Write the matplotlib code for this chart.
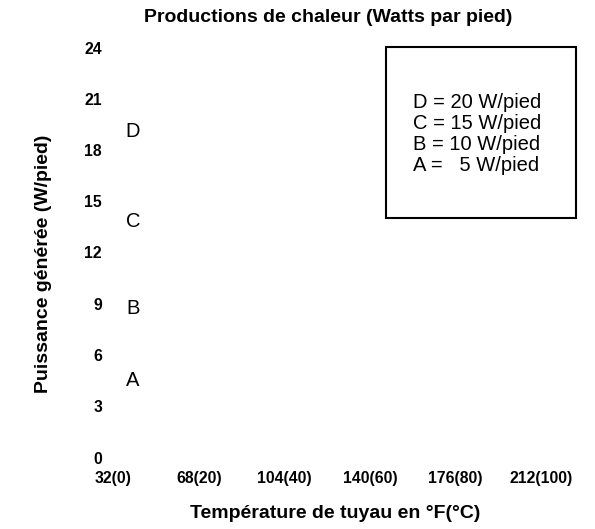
import matplotlib
matplotlib.use("Agg")
import matplotlib.pyplot as plt
from matplotlib.patches import Rectangle

plt.rcParams['font.family'] = ['Liberation Sans', 'DejaVu Sans']

# Axis ticks
x_ticks = [32, 68, 104, 140, 176, 212]
x_tick_labels = ["32(0)", "68(20)", "104(40)", "140(60)", "176(80)", "212(100)"]
y_ticks = [0, 3, 6, 9, 12, 15, 18, 21, 24]

# Curve identifiers and their ratings (W/pied)
series_names = ["D", "C", "B", "A"]
series_watts = [20, 15, 10, 5]
# Where each curve letter sits (temperature °F, power W/pied)
letter_x = [40.2, 40.2, 40.2, 40.2]
letter_y = [19.1, 13.8, 8.7, 4.5]

W, H = 595, 529
fig = plt.figure(figsize=(W / 100, H / 100), dpi=100)
ax = fig.add_axes([113.5 / W, 1 - 457.5 / H, 427.5 / W, 410 / H])
ax.set_xlim(32, 212)
ax.set_ylim(0, 24)
for s in ax.spines.values():
    s.set_visible(False)
ax.set_xticks(x_ticks)
ax.set_xticklabels(x_tick_labels, fontsize=11.3, fontweight='bold')
ax.set_yticks(y_ticks)
ax.set_yticklabels([str(v) for v in y_ticks], fontsize=11.3, fontweight='bold')
ax.tick_params(axis='both', length=0)
ax.tick_params(axis='y', pad=8.3)
ax.tick_params(axis='x', pad=9.5)

for name, xv, yv in zip(series_names, letter_x, letter_y):
    ax.text(xv, yv, name, fontsize=14.5, ha='center', va='center')

# Legend box
fig.patches.append(Rectangle((386 / W, 1 - 218 / H), 190 / W, 171 / H,
                             transform=fig.transFigure, fill=False,
                             edgecolor='black', linewidth=1.5))
legend_lines = []
for name, w in zip(series_names, series_watts):
    pad = "  " if w < 10 else ""
    legend_lines.append(f"{name} = {pad}{w} W/pied")
fig.text(413 / W, 1 - 134 / H, "\n".join(legend_lines), fontsize=14.5,
         ha='left', va='center', linespacing=1.15)

fig.text(328 / W, 1 - 17 / H, "Productions de chaleur (Watts par pied)",
         fontsize=14, fontweight='bold', ha='center', va='center')
fig.text(335 / W, 1 - 514 / H, "Température de tuyau en °F(°C)",
         fontsize=14, fontweight='bold', ha='center', va='center')
fig.text(43 / W, 1 - 264 / H, "Puissance générée (W/pied)",
         fontsize=14, fontweight='bold', ha='center', va='center', rotation=90)

fig.savefig("out.png", dpi=100)
